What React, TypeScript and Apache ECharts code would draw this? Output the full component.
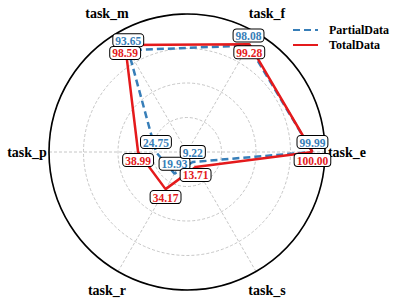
import React, { useEffect, useRef } from "react";
import * as echarts from "echarts";

const categories = ["task_e", "task_f", "task_m", "task_p", "task_r", "task_s"];
const partialData = [99.99, 98.08, 93.65, 24.75, 19.93, 9.22];
const totalData = [100.0, 99.28, 98.59, 38.99, 34.17, 13.71];
const seriesNames = ["PartialData", "TotalData"];
const colors = ["#377eb8", "#e41a1c"];

const RMAX = 110;
const FONT = "Liberation Serif";

function buildLine(values: number[], name: string, color: string, dashed: boolean) {
  const step = 360 / values.length;
  const data: any[] = values.map((v, i) => [v, i * step]);
  data.push([values[0], 360]);
  return {
    name,
    type: "line",
    coordinateSystem: "polar",
    data,
    symbol: "none",
    itemStyle: { color },
    lineStyle: { color, width: 2.5, type: dashed ? [7, 4] : "solid" },
    emphasis: { disabled: true },
    silent: true,
    z: dashed ? 2 : 3,
  };
}

function buildLabels(values: number[], color: string, pos: "top" | "bottom", dist: number) {
  const step = 360 / values.length;
  return {
    type: "scatter",
    coordinateSystem: "polar",
    silent: true,
    symbolSize: 0,
    itemStyle: { opacity: 1, color },
    data: values.map((v, i) => [v, i * step]),
    z: 10,
    label: {
      show: true,
      position: pos,
      distance: dist,
      formatter: (p: any) => Number(p.value[0]).toFixed(2),
      color,
      fontFamily: FONT,
      fontWeight: "bold",
      fontSize: 11.5,
      lineHeight: 11,
      backgroundColor: "#fff",
      borderColor: "#000",
      borderWidth: 1,
      borderRadius: 3,
      padding: [1, 2, 0, 2],
    },
  };
}

export default function App() {
  const ref = useRef<HTMLDivElement>(null);
  useEffect(() => {
    if (!ref.current) return;
    const chart = echarts.init(ref.current, undefined, { renderer: "svg" });
    const step = 360 / categories.length;
    chart.setOption({
      animation: false,
      backgroundColor: "#fff",
      polar: { center: [187, 152], radius: 138 },
      angleAxis: {
        type: "value",
        min: 0,
        max: 360,
        interval: 60,
        startAngle: 0,
        clockwise: false,
        axisLine: { show: true, lineStyle: { color: "#000", width: 1.6 } },
        axisTick: { show: false },
        axisLabel: { show: false },
        splitLine: { show: true, lineStyle: { color: "#b8b8b8", type: [3, 2], width: 0.8 } },
        z: 1,
      },
      radiusAxis: {
        type: "value",
        min: 0,
        max: RMAX,
        interval: RMAX / 4,
        axisLine: { show: false },
        axisTick: { show: false },
        axisLabel: { show: false },
        splitLine: { show: true, lineStyle: { color: "#b8b8b8", type: [3, 2], width: 0.8 } },
      },
      legend: {
        data: seriesNames,
        orient: "vertical",
        left: 287,
        top: 19,
        itemWidth: 25,
        itemHeight: 14,
        itemGap: 3,
        itemStyle: { opacity: 0 },
        textStyle: { fontFamily: FONT, fontWeight: "bold", fontSize: 12, color: "#000", padding: [0, 0, 0, 6] },
      },
      series: [
        buildLine(partialData, seriesNames[0], colors[0], true),
        buildLine(totalData, seriesNames[1], colors[1], false),
        buildLabels(partialData, colors[0], "top", 4),
        buildLabels(totalData, colors[1], "bottom", 2),
        {
          name: "axisNames",
          type: "scatter",
          coordinateSystem: "polar",
          clip: false,
          silent: true,
          symbolSize: 0,
          itemStyle: { opacity: 1 },
          data: categories.map((c, i) => ({ name: c, value: [RMAX * 160 / 138, i * step] })),
          label: {
            show: true,
            position: "inside",
            formatter: (p: any) => p.name,
            color: "#000",
            fontFamily: FONT,
            fontWeight: "bold",
            fontSize: 14,
          },
        },
      ],
    });
    return () => chart.dispose();
  }, []);
  return <div ref={ref} style={{ position: "fixed", left: 0, top: 0, width: 397, height: 304 }} />;
}
